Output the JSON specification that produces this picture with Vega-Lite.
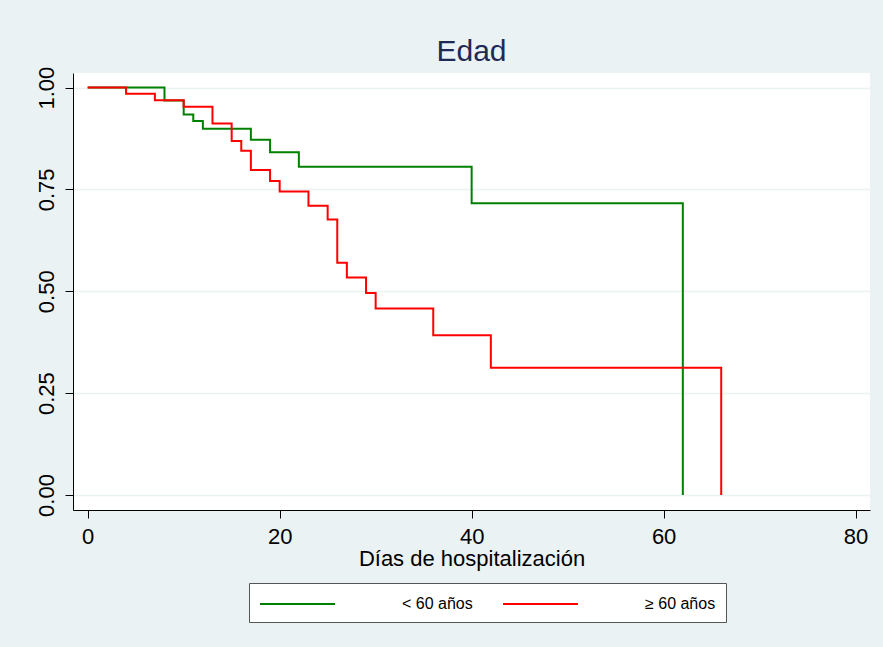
{
  "$schema": "https://vega.github.io/schema/vega-lite/v6.json",
  "width": 797,
  "height": 437,
  "autosize": {"type": "none"},
  "padding": {"left": 73, "top": 73, "right": 13, "bottom": 137},
  "background": "#EAF2F3",
  "title": {
    "text": "Edad",
    "font": "Liberation Sans",
    "fontSize": 30,
    "fontWeight": "normal",
    "color": "#1E2A55",
    "anchor": "middle",
    "frame": "group",
    "baseline": "alphabetic",
    "offset": 11,
    "dy": 36
  },
  "config": {
    "view": {"fill": "white", "stroke": null},
    "font": "Liberation Sans"
  },
  "data": {
    "values": [
      {"grupo": "< 60 años", "dias": 0, "s": 1.0},
      {"grupo": "< 60 años", "dias": 8, "s": 0.968},
      {"grupo": "< 60 años", "dias": 10, "s": 0.934},
      {"grupo": "< 60 años", "dias": 11, "s": 0.918},
      {"grupo": "< 60 años", "dias": 12, "s": 0.899},
      {"grupo": "< 60 años", "dias": 17, "s": 0.872},
      {"grupo": "< 60 años", "dias": 19, "s": 0.841},
      {"grupo": "< 60 años", "dias": 22, "s": 0.806},
      {"grupo": "< 60 años", "dias": 40, "s": 0.716},
      {"grupo": "< 60 años", "dias": 62, "s": 0.0},
      {"grupo": "≥ 60 años", "dias": 0, "s": 1.0},
      {"grupo": "≥ 60 años", "dias": 4, "s": 0.985},
      {"grupo": "≥ 60 años", "dias": 7, "s": 0.969},
      {"grupo": "≥ 60 años", "dias": 10, "s": 0.953},
      {"grupo": "≥ 60 años", "dias": 13, "s": 0.912},
      {"grupo": "≥ 60 años", "dias": 15, "s": 0.869},
      {"grupo": "≥ 60 años", "dias": 16, "s": 0.845},
      {"grupo": "≥ 60 años", "dias": 17, "s": 0.798},
      {"grupo": "≥ 60 años", "dias": 19, "s": 0.771},
      {"grupo": "≥ 60 años", "dias": 20, "s": 0.745},
      {"grupo": "≥ 60 años", "dias": 23, "s": 0.71},
      {"grupo": "≥ 60 años", "dias": 25, "s": 0.676},
      {"grupo": "≥ 60 años", "dias": 26, "s": 0.57},
      {"grupo": "≥ 60 años", "dias": 27, "s": 0.534},
      {"grupo": "≥ 60 años", "dias": 29, "s": 0.496},
      {"grupo": "≥ 60 años", "dias": 30, "s": 0.458},
      {"grupo": "≥ 60 años", "dias": 36, "s": 0.392},
      {"grupo": "≥ 60 años", "dias": 42, "s": 0.3125},
      {"grupo": "≥ 60 años", "dias": 66, "s": 0.0}
    ]
  },
  "mark": {"type": "line", "interpolate": "step-after", "strokeWidth": 2},
  "encoding": {
    "x": {
      "field": "dias",
      "type": "quantitative",
      "scale": {"domain": [-1.53, 81.5], "nice": false, "zero": false},
      "axis": {
        "title": "Días de hospitalización",
        "values": [0, 20, 40, 60, 80],
        "grid": false,
        "domainColor": "black",
        "domainWidth": 1,
        "tickColor": "black",
        "tickSize": 8,
        "labelFontSize": 22,
        "labelColor": "black",
        "labelPadding": 8,
        "labelFont": "Liberation Sans",
        "titleFont": "Liberation Sans",
        "titleFontSize": 22,
        "titleFontWeight": "normal",
        "titleColor": "black",
        "titlePadding": 1
      }
    },
    "y": {
      "field": "s",
      "type": "quantitative",
      "scale": {"domain": [-0.0368, 1.0358], "nice": false, "zero": false},
      "axis": {
        "title": null,
        "values": [0, 0.25, 0.5, 0.75, 1],
        "format": ".2f",
        "grid": true,
        "gridColor": "#EAF2F3",
        "gridWidth": 1.5,
        "domainColor": "black",
        "domainWidth": 1,
        "tickColor": "black",
        "tickSize": 8,
        "labelAngle": -90,
        "labelAlign": "center",
        "labelBaseline": "bottom",
        "labelFontSize": 22,
        "labelColor": "black",
        "labelPadding": 7,
        "labelFont": "Liberation Sans"
      }
    },
    "color": {
      "field": "grupo",
      "type": "nominal",
      "sort": ["< 60 años", "≥ 60 años"],
      "scale": {"domain": ["< 60 años", "≥ 60 años"], "range": ["#008000", "#FF0000"]},
      "legend": {
        "title": null,
        "orient": "none",
        "legendX": 176,
        "legendY": 510,
        "direction": "horizontal",
        "strokeColor": "#555555",
        "fillColor": "white",
        "padding": 10,
        "symbolType": "M-1,0H6.5",
        "symbolSize": 400,
        "symbolStrokeWidth": 2,
        "labelFontSize": 16,
        "labelFont": "Liberation Sans",
        "labelColor": "black",
        "labelOffset": 121,
        "columnPadding": 26
      }
    }
  }
}
